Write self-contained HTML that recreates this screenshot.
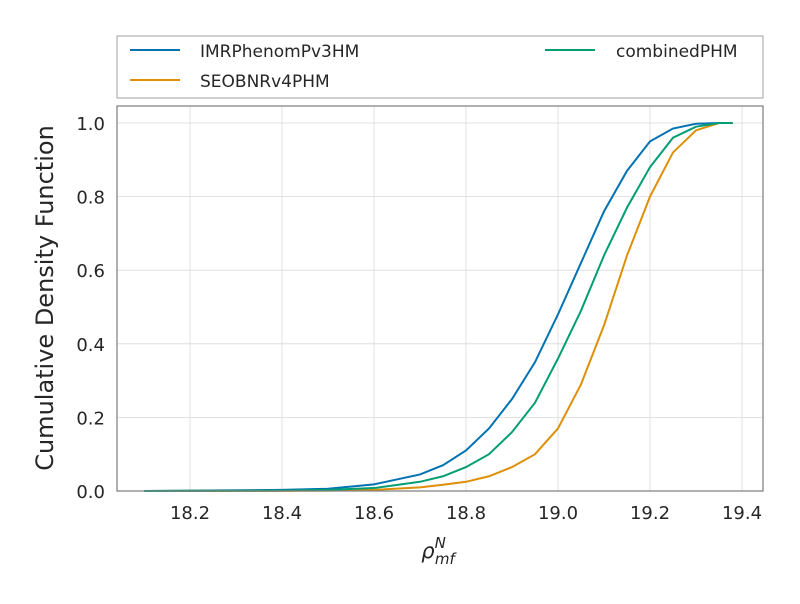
<!DOCTYPE html>
<html><head><meta charset="utf-8"><style>
body{margin:0;background:#fff;font-family:"DejaVu Sans","Liberation Sans",sans-serif}
</style></head><body>
<svg id="chart" width="800" height="600" xmlns="http://www.w3.org/2000/svg" font-family="DejaVu Sans, Liberation Sans, sans-serif">
<rect x="0" y="0" width="800" height="600" fill="#fff"/>
<g id="grid"></g>
<g id="series"></g>
<rect x="117" y="106" width="646" height="385" fill="none" stroke="#808080" stroke-width="1.25"/>
<g id="ticks" font-size="18" fill="#262626"></g>
<text x="53" y="298" font-size="24" fill="#262626" text-anchor="middle" transform="rotate(-90 53 298)">Cumulative Density Function</text>
<text x="438" y="558" font-size="21" fill="#262626" text-anchor="middle" font-style="italic">ρ<tspan font-size="15" dy="-10">N</tspan><tspan font-size="15" dx="-11" dy="16">mf</tspan></text>
<g>
<rect x="117" y="36" width="646" height="62" fill="#fff" stroke="#a0a0a0" stroke-width="1"/>
<g><line x1="130" y1="50" x2="180" y2="50" stroke="#0173b2" stroke-width="2"/><text x="200" y="57" font-size="17" fill="#262626">IMRPhenomPv3HM</text></g>
<g><line x1="130" y1="80" x2="180" y2="80" stroke="#de8f05" stroke-width="2"/><text x="200" y="87" font-size="17" fill="#262626">SEOBNRv4PHM</text></g>
<g><line x1="545" y1="50" x2="595" y2="50" stroke="#029e73" stroke-width="2"/><text x="616" y="57" font-size="17" fill="#262626">combinedPHM</text></g>
</g>
</svg>
<script>
const xs = [18.1,18.4,18.5,18.6,18.7,18.75,18.8,18.85,18.9,18.95,19.0,19.05,19.1,19.15,19.2,19.25,19.3,19.35,19.38];
const imrValues = [0,0.003,0.006,0.018,0.045,0.07,0.11,0.17,0.25,0.35,0.48,0.62,0.76,0.87,0.95,0.985,0.998,1.0,1.0];
const seobValues = [0,0.0005,0.001,0.003,0.01,0.017,0.025,0.04,0.065,0.1,0.17,0.29,0.45,0.64,0.8,0.92,0.98,1.0,1.0];
const combValues = [0,0.001,0.003,0.008,0.025,0.04,0.065,0.1,0.16,0.24,0.36,0.49,0.64,0.77,0.88,0.96,0.99,1.0,1.0];
const xTicks = [18.2,18.4,18.6,18.8,19.0,19.2,19.4];
const yTicks = [0,0.2,0.4,0.6,0.8,1.0];
const X = v => 117 + (v - 18.0413) * 460;
const Y = v => 491 - v * 368;
const NS = "http://www.w3.org/2000/svg";
const grid = document.getElementById('grid'), ticks = document.getElementById('ticks'), ser = document.getElementById('series');
xTicks.forEach(t => {
  const l = document.createElementNS(NS,'line');
  l.setAttribute('x1',X(t));l.setAttribute('x2',X(t));l.setAttribute('y1',106);l.setAttribute('y2',491);
  l.setAttribute('stroke','#d9d9d9');l.setAttribute('stroke-width','0.8');
  
  
  grid.appendChild(l);
  const tx = document.createElementNS(NS,'text');
  tx.setAttribute('x',X(t));tx.setAttribute('y',519);tx.setAttribute('text-anchor','middle');
  tx.textContent = t.toFixed(1);
  
  
  ticks.appendChild(tx);
});
yTicks.forEach(t => {
  const l = document.createElementNS(NS,'line');
  l.setAttribute('x1',117);l.setAttribute('x2',763);l.setAttribute('y1',Y(t));l.setAttribute('y2',Y(t));
  l.setAttribute('stroke','#d9d9d9');l.setAttribute('stroke-width','0.8');
  
  
  grid.appendChild(l);
  const tx = document.createElementNS(NS,'text');
  tx.setAttribute('x',105);tx.setAttribute('y',Y(t)+7);tx.setAttribute('text-anchor','end');
  tx.textContent = t.toFixed(1);
  
  
  ticks.appendChild(tx);
});
function draw(vals,color,name){
  const p = document.createElementNS(NS,'polyline');
  p.setAttribute('points', xs.map((x,i)=>X(x)+','+Y(vals[i])).join(' '));
  p.setAttribute('fill','none');p.setAttribute('stroke',color);p.setAttribute('stroke-width','2');
  
  
  ser.appendChild(p);
}
draw(imrValues,'#0173b2','imrphenom-line');
draw(seobValues,'#de8f05','seobnr-line');
draw(combValues,'#029e73','combined-line');
</script>
</body></html>
